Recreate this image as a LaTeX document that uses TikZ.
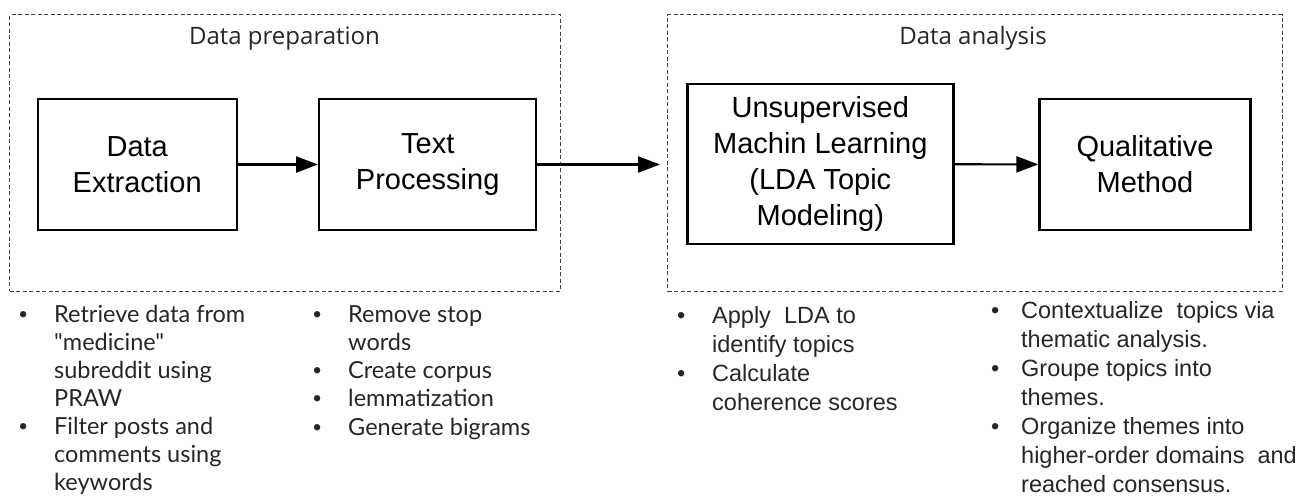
\documentclass[tikz,border=0pt]{standalone}
\usepackage{fontspec}
\setmainfont{Liberation Sans}
\newfontfamily\titlefont{Open Sans}
\newfontfamily\listfont{Lato}
\usetikzlibrary{arrows.meta}
\newcommand{\dotmark}{{\normalfont\fontsize{23.5}{28}\selectfont\textbullet}}
\tikzset{stage/.style={draw=black, line width=2.4pt, align=center, inner sep=0pt,
  font=\fontsize{29}{36}\selectfont},
%dashed frame round each phase
group/.style={draw=black!75, dash pattern=on 4pt off 2.5pt, line width=1pt, inner sep=0pt},
grouptitle/.style={font=\titlefont\fontsize{24}{28}\selectfont, text=black!85, anchor=base, inner sep=0pt},
flow/.style={-{Triangle[length=22pt,width=16pt]}, line width=2.2pt},
notes/.style={anchor=base west, inner sep=0pt, text=black!85}}

\begin{document}
\begin{tikzpicture}[x=1pt,y=-1pt]
\useasboundingbox (0,0) rectangle (1308,495);
% phase frames
\node[group, minimum width=550.7pt, minimum height=276pt] (prep) at (285.3,153) {};
\node[group, minimum width=614.6pt, minimum height=276pt] (ana) at (975,153) {};
\node[grouptitle] (preptitle) at (284.5,45) {Data preparation};
\node[grouptitle] (anatitle) at (973,45) {Data analysis};

% steps
\node[stage, minimum width=199pt, minimum height=131pt] (de) at (137.2,164.5) {Data\\Extraction};
\node[stage, minimum width=217pt, minimum height=131pt] (tp) at (427.7,164.5) {Text\\Processing};
\node[stage, minimum width=266pt, minimum height=160pt] (uml) at (820.3,164.2) {Unsupervised\\Machin Learning\\(LDA Topic\\Modeling)};
\node[stage, minimum width=211pt, minimum height=131pt] (qm) at (1145,164.5) {Qualitative\\Method};
\coordinate (tpend) at (660,164.5);

\draw[flow] (de) -- (tp);
\draw[flow] (tp) -- (tpend);
\draw[flow] (uml) -- (qm);

% notes under each step
\node[notes, font=\listfont\fontsize{23.5}{28}\selectfont] (denotes) at (19,322) {%
\begin{tabular}[t]{@{}p{35pt}@{}l@{}}
\dotmark & Retrieve data from\\
 & "medicine"\\
 & subreddit using\\
 & PRAW\\
\dotmark & Filter posts and\\
 & comments using\\
 & keywords
\end{tabular}};
\node[notes, font=\listfont\fontsize{23.5}{28.3}\selectfont] (tpnotes) at (313,322) {%
\begin{tabular}[t]{@{}p{35pt}@{}l@{}}
\dotmark & Remove stop\\
 & words\\
\dotmark & Create corpus\\
\dotmark & lemmatization\\
\dotmark & Generate bigrams
\end{tabular}};
\node[notes, font=\fontsize{23.5}{29}\selectfont] (umlnotes) at (677,323) {%
\begin{tabular}[t]{@{}p{35pt}@{}l@{}}
\textbullet & Apply\ \ LDA to\\
 & identify topics\\
\textbullet & Calculate\\
 & coherence scores
\end{tabular}};
\node[notes, font=\fontsize{23.5}{29}\selectfont] (qmnotes) at (991,318) {%
\begin{tabular}[t]{@{}p{30pt}@{}l@{}}
\textbullet & Contextualize\ \ topics via\\
 & thematic analysis.\\
\textbullet & Groupe topics into\\
 & themes.\\
\textbullet & Organize themes into\\
 & higher-order domains\ \ and\\
 & reached consensus.
\end{tabular}};
\end{tikzpicture}
\end{document}
